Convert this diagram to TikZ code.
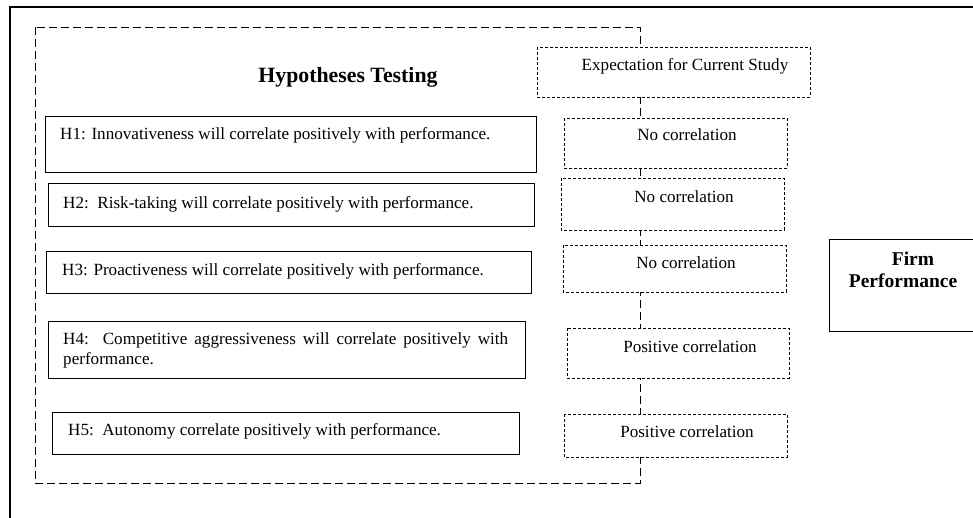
\documentclass[tikz,border=0pt]{standalone}
\usepackage{fontspec}
\setmainfont{Liberation Serif}
\begin{document}
\begin{tikzpicture}[x=1pt,y=-1pt,
    hyptext/.style={anchor=base west, inner sep=0pt, font=\fontsize{17.1}{20}\selectfont},
    corrtext/.style={anchor=base, inner sep=0pt, font=\fontsize{17.1}{20}\selectfont},
    corrbox/.style={draw, fill=white, line width=0.9pt, dash pattern=on 3pt off 2pt},
    hypbox/.style={draw, line width=1pt}]
    \clip (0,0) rectangle (973,517);
    % Outer frame (runs past the page on the right and at the bottom)
    \draw[line width=2pt] (10,7) rectangle (990,540);
    % Hypotheses area
    \draw[line width=1pt, dash pattern=on 8pt off 4pt] (35,27) rectangle (640,483);
    \node[anchor=base, inner sep=0pt, font=\fontsize{21.8}{24}\selectfont\bfseries] (title) at (348,82) {Hypotheses Testing};
    % Hypotheses
    \draw[hypbox] (45,116) rectangle (536,172);
    \node[hyptext] (h1) at (60,139) {H1: Innovativeness will correlate positively with performance.};
    \draw[hypbox] (48,183) rectangle (534,226);
    \node[hyptext] (h2) at (63,208) {H2:\ \ Risk-taking will correlate positively with performance.};
    \draw[hypbox] (46,251) rectangle (531,293);
    \node[hyptext] (h3) at (62,275) {H3: Proactiveness will correlate positively with performance.};
    \draw[hypbox] (48,321) rectangle (525,378);
    \node[hyptext, text width=445pt, align=justify] (h4) at (63,344) {H4:\ \ Competitive aggressiveness will correlate positively with\linebreak performance.};
    \draw[hypbox] (52,412) rectangle (519,454);
    \node[hyptext] (h5) at (68,435) {H5:\ \ Autonomy correlate positively with performance.};
    % Expectations
    \draw[corrbox] (537,47) rectangle (810,97);
    \node[corrtext] (expect) at (685,70) {Expectation for Current Study};
    \draw[corrbox] (564,118) rectangle (787,168);
    \node[corrtext] (nc1) at (687,140) {No correlation};
    \draw[corrbox] (561,178) rectangle (784,230);
    \node[corrtext] (nc2) at (684,202) {No correlation};
    \draw[corrbox] (563,245) rectangle (786,292);
    \node[corrtext] (nc3) at (686,268) {No correlation};
    \draw[corrbox] (567,328) rectangle (789,378);
    \node[corrtext] (pc1) at (690,352) {Positive correlation};
    \draw[corrbox] (564,414) rectangle (787,457);
    \node[corrtext] (pc2) at (687,437) {Positive correlation};
    % Outcome
    \draw[hypbox] (829,239) rectangle (990,331);
    \node[anchor=base, inner sep=0pt, align=center, font=\fontsize{19.5}{22}\selectfont\bfseries] (firm) at (903,287) {\hspace*{20pt}Firm\\Performance};
\end{tikzpicture}
\end{document}
